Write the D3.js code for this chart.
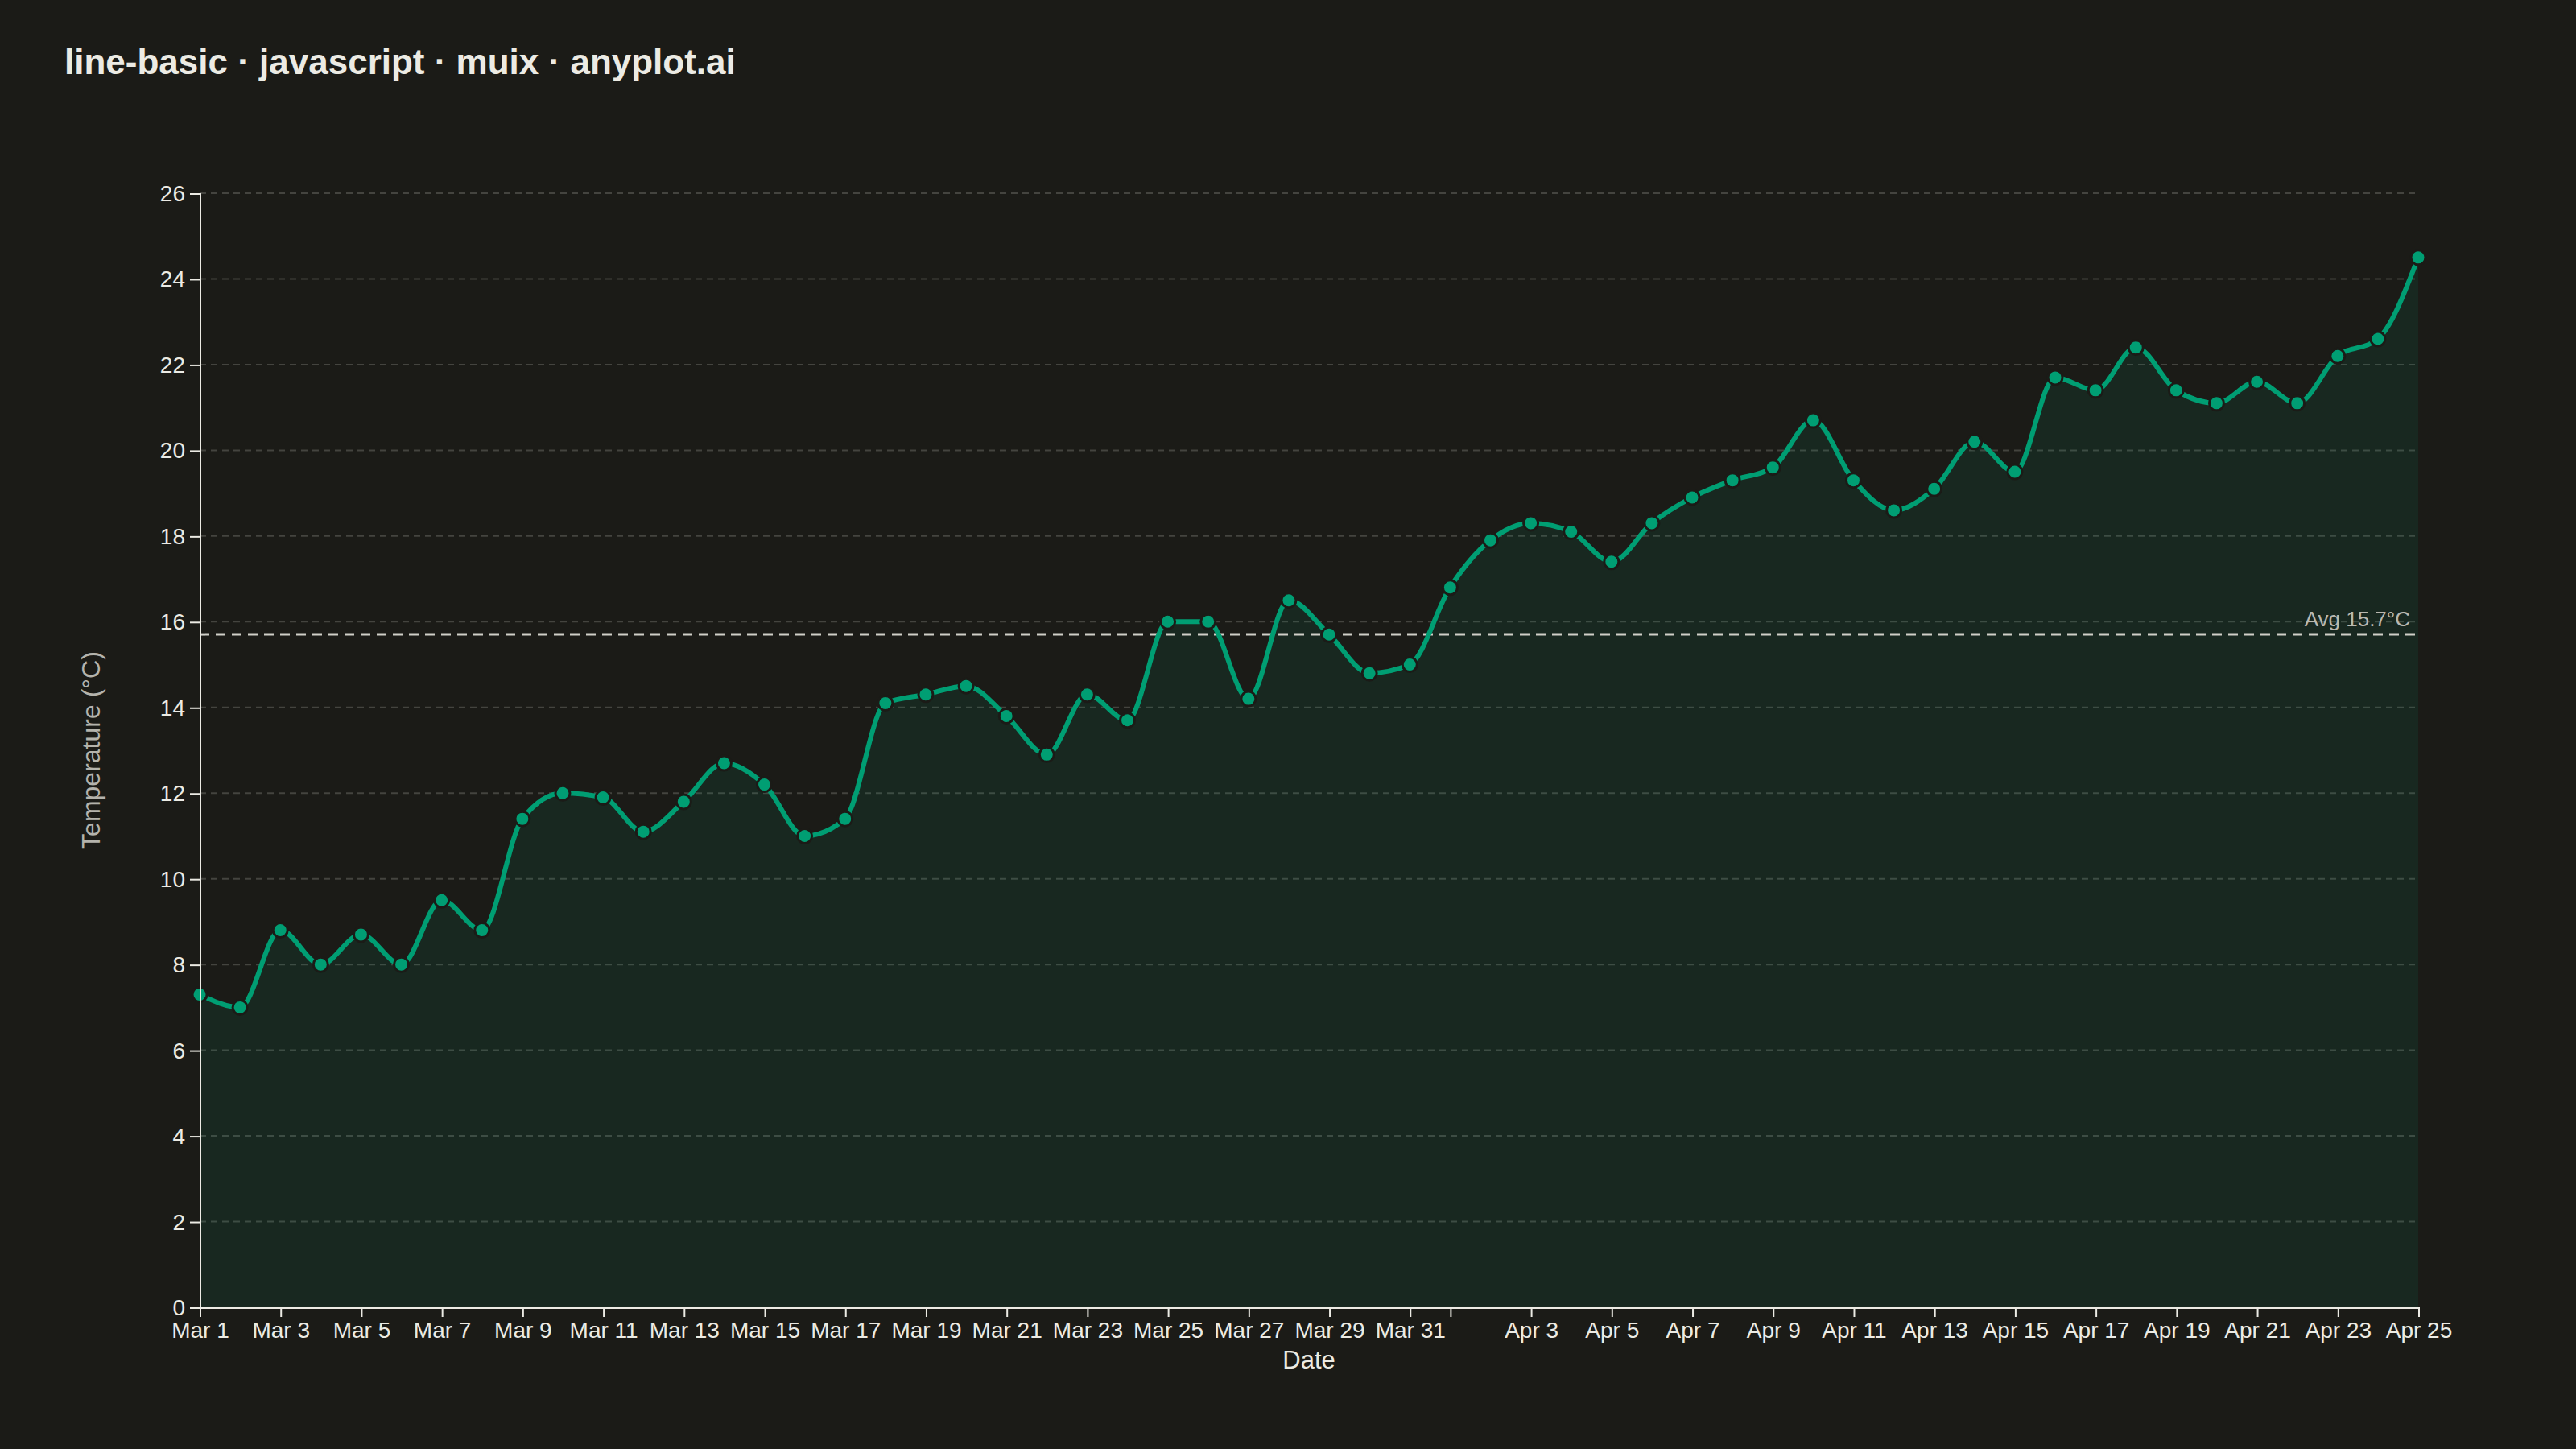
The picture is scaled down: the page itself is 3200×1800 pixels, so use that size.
<!DOCTYPE html>
<html>
<head>
<meta charset="utf-8">
<title>line-basic</title>
<script src="https://cdn.jsdelivr.net/npm/d3@7"></script>
<style>
    html, body { margin: 0; padding: 0; background: #1b1b17; }
    svg { display: block; }
    text { font-family: "Liberation Sans", Arial, Helvetica, sans-serif; }
</style>
</head>
<body>
<svg id="chart" width="3200" height="1800" viewBox="0 0 1600 900"></svg>
<script>
// daily temperatures, Mar 1 - Apr 25
const dates = [
    '2024-03-01', '2024-03-02', '2024-03-03', '2024-03-04', '2024-03-05', '2024-03-06', '2024-03-07',
    '2024-03-08', '2024-03-09', '2024-03-10', '2024-03-11', '2024-03-12', '2024-03-13', '2024-03-14',
    '2024-03-15', '2024-03-16', '2024-03-17', '2024-03-18', '2024-03-19', '2024-03-20', '2024-03-21',
    '2024-03-22', '2024-03-23', '2024-03-24', '2024-03-25', '2024-03-26', '2024-03-27', '2024-03-28',
    '2024-03-29', '2024-03-30', '2024-03-31', '2024-04-01', '2024-04-02', '2024-04-03', '2024-04-04',
    '2024-04-05', '2024-04-06', '2024-04-07', '2024-04-08', '2024-04-09', '2024-04-10', '2024-04-11',
    '2024-04-12', '2024-04-13', '2024-04-14', '2024-04-15', '2024-04-16', '2024-04-17', '2024-04-18',
    '2024-04-19', '2024-04-20', '2024-04-21', '2024-04-22', '2024-04-23', '2024-04-24', '2024-04-25'
];

const temperatures = [
    7.3, 7.0, 8.8, 8.0, 8.7, 8.0, 9.5,
    8.8, 11.4, 12.0, 11.9, 11.1, 11.8, 12.7,
    12.2, 11.0, 11.4, 14.1, 14.3, 14.5, 13.8,
    12.9, 14.3, 13.7, 16.0, 16.0, 14.2, 16.5,
    15.7, 14.8, 15.0, 16.8, 17.9, 18.3, 18.1,
    17.4, 18.3, 18.9, 19.3, 19.6, 20.7, 19.3,
    18.6, 19.1, 20.2, 19.5, 21.7, 21.4, 22.4,
    21.4, 21.1, 21.6, 21.1, 22.2, 22.6, 24.5
];

const yTicks = [0, 2, 4, 6, 8, 10, 12, 14, 16, 18, 20, 22, 24, 26];

const titleText = 'line-basic · javascript · muix · anyplot.ai';
const xLabel = 'Date';
const yLabel = 'Temperature (°C)';

const parseDate = d3.timeParse('%Y-%m-%d');
const data = dates.map((d, i) => ({ date: parseDate(d), value: temperatures[i] }));
const avg = d3.mean(temperatures);

const width = 1600;
const height = 900;
const margin = { top: 120, right: 98, bottom: 88, left: 124 };
const innerW = width - margin.left - margin.right;
const innerH = height - margin.top - margin.bottom;

const green = '#009E73';
const bg = '#1b1b17';
const ink = '#ecebe4';

const svg = d3.select('#chart');

svg.append('rect')
    .attr('width', width)
    .attr('height', height)
    .attr('fill', bg);

svg.append('text')
    .attr('x', 40)
    .attr('y', 46)
    .attr('fill', ink)
    .attr('font-size', 22)
    .attr('font-weight', 'bold')
    .text(titleText);

const g = svg.append('g')
    .attr('transform', `translate(${margin.left},${margin.top})`);

const x = d3.scaleTime()
    .domain(d3.extent(data, d => d.date))
    .range([0, innerW]);

const y = d3.scaleLinear()
    .domain([0, d3.max(yTicks)])
    .range([innerH, 0]);

// grid
g.append('g')
    .selectAll('line')
    .data(yTicks.filter(t => t > 0))
    .enter().append('line')
    .attr('x1', 0)
    .attr('x2', innerW)
    .attr('y1', d => y(d))
    .attr('y2', d => y(d))
    .attr('stroke', '#44443f')
    .attr('stroke-width', 1)
    .attr('stroke-dasharray', '4,3');

// area under the line
const area = d3.area()
    .curve(d3.curveMonotoneX)
    .x(d => x(d.date))
    .y0(innerH)
    .y1(d => y(d.value));

g.append('path')
    .datum(data)
    .attr('d', area)
    .attr('fill', green)
    .attr('fill-opacity', 0.1);

// average reference line
g.append('line')
    .attr('x1', 0)
    .attr('x2', innerW)
    .attr('y1', y(avg))
    .attr('y2', y(avg))
    .attr('stroke', '#d0cfc8')
    .attr('stroke-width', 1.5)
    .attr('stroke-dasharray', '6,4');

g.append('text')
    .attr('x', innerW - 5)
    .attr('y', y(avg) - 5)
    .attr('text-anchor', 'end')
    .attr('fill', '#b9b8b1')
    .attr('font-size', 13)
    .text(`Avg ${avg.toFixed(1)}°C`);

const line = d3.line()
    .curve(d3.curveMonotoneX)
    .x(d => x(d.date))
    .y(d => y(d.value));

g.append('path')
    .datum(data)
    .attr('d', line)
    .attr('fill', 'none')
    .attr('stroke', green)
    .attr('stroke-width', 3);

g.append('g')
    .selectAll('circle')
    .data(data)
    .enter().append('circle')
    .attr('cx', d => x(d.date))
    .attr('cy', d => y(d.value))
    .attr('r', 4.5)
    .attr('fill', green)
    .attr('stroke', bg)
    .attr('stroke-width', 1.5);

// axes
const fmt = d3.timeFormat('%b %-d');
const xTickDates = d3.timeDay.every(2).range(data[0].date, d3.timeDay.offset(data[data.length - 1].date, 1));

const xAxis = g.append('g')
    .attr('transform', `translate(0,${innerH})`)
    .call(d3.axisBottom(x)
        .tickValues(xTickDates)
        // no label when the tick is only one day after the previous one
        .tickFormat((d, i) => i > 0 && d3.timeDay.count(xTickDates[i - 1], d) < 2 ? '' : fmt(d)));

const yAxis = g.append('g')
    .call(d3.axisLeft(y).tickValues(yTicks).tickFormat(d3.format('d')));

[xAxis, yAxis].forEach(ax => {
    ax.selectAll('path, line').attr('stroke', ink);
    ax.selectAll('text').attr('fill', ink).attr('font-size', 14);
    ax.attr('font-family', null);
});

svg.append('text')
    .attr('x', margin.left + innerW / 2)
    .attr('y', 850)
    .attr('text-anchor', 'middle')
    .attr('fill', ink)
    .attr('font-size', 15.5)
    .text(xLabel);

svg.append('text')
    .attr('transform', `translate(62,${margin.top + innerH / 2}) rotate(-90)`)
    .attr('text-anchor', 'middle')
    .attr('fill', '#b4b3ac')
    .attr('font-size', 16)
    .text(yLabel);
</script>
</body>
</html>
